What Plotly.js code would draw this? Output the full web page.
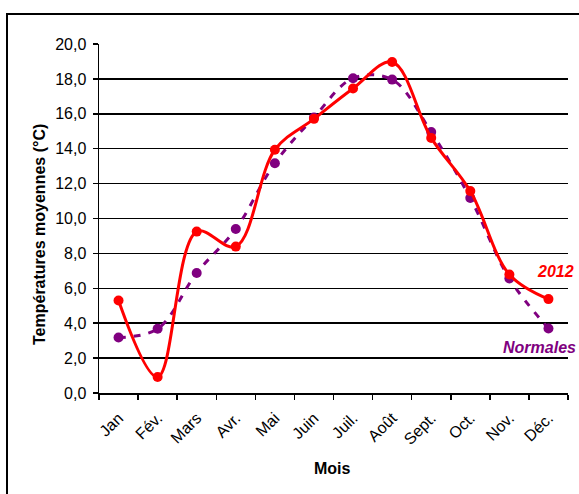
<!DOCTYPE html>
<html>
<head>
<meta charset="utf-8">
<script src="https://cdn.plot.ly/plotly-3.0.1.min.js"></script>
<style>
  html, body { margin: 0; padding: 0; background: #fff; }
  #chart { width: 579px; height: 494px; }
</style>
</head>
<body>
<div id="chart"></div>
<script>
const months = ["Jan", "Fév.", "Mars", "Avr.", "Mai", "Juin", "Juil.", "Août", "Sept.", "Oct.", "Nov.", "Déc."];
const temps2012 = [5.3, 0.92, 9.25, 8.39, 13.94, 15.71, 17.45, 18.97, 14.62, 11.57, 6.79, 5.38];
const normales = [3.18, 3.68, 6.88, 9.40, 13.17, 15.79, 18.04, 17.96, 14.95, 11.17, 6.56, 3.70];
const yTicks = [0, 2, 4, 6, 8, 10, 12, 14, 16, 18, 20];

const font = "Liberation Sans, Arial, sans-serif";

const traces = [
  {
    x: months, y: normales, type: "scatter", mode: "lines+markers", name: "Normales",
    line: { color: "#800080", width: 3, dash: "7px,8px", shape: "spline", smoothing: 1 },
    marker: { color: "#800080", size: 10 },
    hoverinfo: "skip"
  },
  {
    x: months, y: temps2012, type: "scatter", mode: "lines+markers", name: "2012",
    line: { color: "#FF0000", width: 3, shape: "spline", smoothing: 1 },
    marker: { color: "#FF0000", size: 10 },
    hoverinfo: "skip"
  }
];

const layout = {
  width: 579, height: 494,
  margin: { l: 99, r: 11, t: 44, b: 101 },
  paper_bgcolor: "#fff", plot_bgcolor: "#fff",
  separators: ", ",
  showlegend: false,
  font: { family: font, size: 16, color: "#000" },
  xaxis: {
    type: "category",
    categoryorder: "array", categoryarray: months,
    range: [-0.5, 11.5],
    tickson: "boundaries",
    ticks: "outside", ticklen: 5, tickwidth: 1.5, tickcolor: "#000",
    showline: true, linecolor: "#000", linewidth: 1.5,
    showgrid: false, zeroline: false,
    tickangle: -45,
    ticklabelstandoff: 8,
    tickfont: { family: font, size: 16, color: "#000" }
  },
  yaxis: {
    range: [0, 20],
    tickvals: yTicks,
    tickformat: ".1f",
    ticks: "outside", ticklen: 5, tickwidth: 1.5, tickcolor: "#000",
    showline: true, linecolor: "#000", linewidth: 1.5,
    showgrid: true, gridcolor: "#000", gridwidth: 1.5,
    zeroline: false,
    ticklabelstandoff: 3,
    tickfont: { family: font, size: 16, color: "#000" }
  },
  annotations: [
    { text: "<b><i>2012</i></b>", xref: "paper", yref: "paper",
      x: (576 - 99) / 469, y: (393 - 271) / 349, xanchor: "right", yanchor: "middle",
      showarrow: false, font: { family: font, size: 16, color: "#FF0000" } },
    { text: "<b><i>Normales</i></b>", xref: "paper", yref: "paper",
      x: (578 - 99) / 469, y: (393 - 347) / 349, xanchor: "right", yanchor: "middle",
      showarrow: false, font: { family: font, size: 16, color: "#800080" } },
    { text: "<b>Mois</b>", xref: "paper", yref: "paper",
      x: (332 - 99) / 469, y: (393 - 468) / 349, xanchor: "center", yanchor: "middle",
      showarrow: false, font: { family: font, size: 16, color: "#000" } },
    { text: "<b>Températures moyennes (°C)</b>", xref: "paper", yref: "paper",
      x: (39 - 99) / 469, y: (393 - 235) / 349, xanchor: "center", yanchor: "middle",
      textangle: -90,
      showarrow: false, font: { family: font, size: 16, color: "#000" } }
  ],
  shapes: [
    { type: "rect", xref: "paper", yref: "paper",
      x0: (7 - 99) / 469, x1: (620 - 99) / 469,
      y0: (393 - 560) / 349, y1: (393 - 14) / 349,
      line: { color: "#000", width: 2 }, fillcolor: "rgba(0,0,0,0)", layer: "below" }
  ]
};

Plotly.newPlot("chart", traces, layout, { displayModeBar: false, staticPlot: true });
</script>
</body>
</html>
